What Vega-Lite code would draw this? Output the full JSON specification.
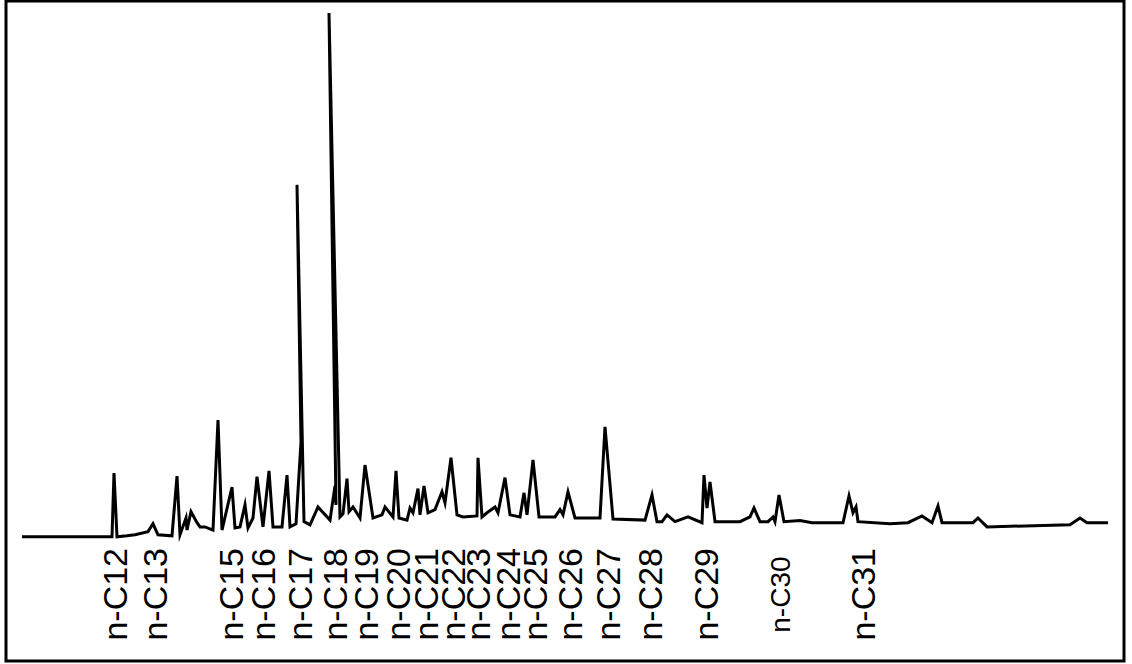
{
  "$schema": "https://vega.github.io/schema/vega-lite/v6.json",
  "width": 1118,
  "height": 660,
  "autosize": "none",
  "padding": {"left": 6, "top": 1, "right": 8, "bottom": 3},
  "background": "white",
  "config": {"view": {"stroke": "black", "strokeWidth": 3}},
  "datasets": {
    "trace": [
      {"i": 1, "t": 0.8, "a": 0},
      {"i": 2, "t": 5.3, "a": 0},
      {"i": 3, "t": 5.4, "a": 12.2},
      {"i": 4, "t": 5.55, "a": 0},
      {"i": 5, "t": 6.05, "a": 0.2},
      {"i": 6, "t": 6.45, "a": 0.4},
      {"i": 7, "t": 7.1, "a": 1.0},
      {"i": 8, "t": 7.35, "a": 2.5},
      {"i": 9, "t": 7.6, "a": 0.4},
      {"i": 10, "t": 8.3, "a": 0.2},
      {"i": 11, "t": 8.55, "a": 11.6},
      {"i": 12, "t": 8.7, "a": 0.4},
      {"i": 13, "t": 9.0, "a": 3.6},
      {"i": 14, "t": 9.05, "a": 1.3},
      {"i": 15, "t": 9.25, "a": 4.8},
      {"i": 16, "t": 9.55, "a": 2.7},
      {"i": 17, "t": 9.7, "a": 1.9},
      {"i": 18, "t": 9.95, "a": 1.9},
      {"i": 19, "t": 10.35, "a": 1.3},
      {"i": 20, "t": 10.6, "a": 22.3},
      {"i": 21, "t": 10.8, "a": 1.3},
      {"i": 22, "t": 11.3, "a": 9.5},
      {"i": 23, "t": 11.45, "a": 1.7},
      {"i": 24, "t": 11.7, "a": 1.9},
      {"i": 25, "t": 11.95, "a": 6.1},
      {"i": 26, "t": 12.1, "a": 1.7},
      {"i": 27, "t": 12.35, "a": 3.6},
      {"i": 28, "t": 12.55, "a": 11.5},
      {"i": 29, "t": 12.85, "a": 1.9},
      {"i": 30, "t": 13.15, "a": 12.6},
      {"i": 31, "t": 13.35, "a": 1.9},
      {"i": 32, "t": 13.8, "a": 1.9},
      {"i": 33, "t": 14.05, "a": 11.8},
      {"i": 34, "t": 14.2, "a": 1.9},
      {"i": 35, "t": 14.5, "a": 2.5},
      {"i": 36, "t": 14.75, "a": 18.1},
      {"i": 37, "t": 14.55, "a": 67.2},
      {"i": 38, "t": 14.9, "a": 2.9},
      {"i": 39, "t": 15.2, "a": 2.3},
      {"i": 40, "t": 15.6, "a": 5.7},
      {"i": 41, "t": 16.2, "a": 3.2},
      {"i": 42, "t": 16.45, "a": 9.7},
      {"i": 43, "t": 16.5, "a": 6.1},
      {"i": 44, "t": 16.15, "a": 100.0},
      {"i": 45, "t": 16.7, "a": 3.8},
      {"i": 46, "t": 16.85, "a": 4.4},
      {"i": 47, "t": 17.05, "a": 11.1},
      {"i": 48, "t": 17.15, "a": 4.8},
      {"i": 49, "t": 17.35, "a": 5.7},
      {"i": 50, "t": 17.7, "a": 3.6},
      {"i": 51, "t": 17.95, "a": 13.7},
      {"i": 52, "t": 18.35, "a": 3.6},
      {"i": 53, "t": 18.8, "a": 4.2},
      {"i": 54, "t": 18.95, "a": 5.7},
      {"i": 55, "t": 19.35, "a": 3.8},
      {"i": 56, "t": 19.5, "a": 12.6},
      {"i": 57, "t": 19.65, "a": 3.6},
      {"i": 58, "t": 20.05, "a": 3.2},
      {"i": 59, "t": 20.2, "a": 5.5},
      {"i": 60, "t": 20.35, "a": 4.6},
      {"i": 61, "t": 20.6, "a": 9.2},
      {"i": 62, "t": 20.7, "a": 4.2},
      {"i": 63, "t": 20.9, "a": 9.7},
      {"i": 64, "t": 21.1, "a": 4.6},
      {"i": 65, "t": 21.45, "a": 5.2},
      {"i": 66, "t": 21.8, "a": 8.6},
      {"i": 67, "t": 21.95, "a": 6.5},
      {"i": 68, "t": 22.25, "a": 15.1},
      {"i": 69, "t": 22.55, "a": 4.2},
      {"i": 70, "t": 22.85, "a": 3.8},
      {"i": 71, "t": 23.55, "a": 4.0},
      {"i": 72, "t": 23.6, "a": 15.1},
      {"i": 73, "t": 23.8, "a": 3.8},
      {"i": 74, "t": 24.05, "a": 4.6},
      {"i": 75, "t": 24.45, "a": 5.7},
      {"i": 76, "t": 24.6, "a": 4.6},
      {"i": 77, "t": 24.95, "a": 11.3},
      {"i": 78, "t": 25.2, "a": 4.2},
      {"i": 79, "t": 25.7, "a": 3.8},
      {"i": 80, "t": 25.9, "a": 8.4},
      {"i": 81, "t": 26.05, "a": 4.2},
      {"i": 82, "t": 26.35, "a": 14.7},
      {"i": 83, "t": 26.65, "a": 3.8},
      {"i": 84, "t": 27.45, "a": 3.8},
      {"i": 85, "t": 27.7, "a": 5.2},
      {"i": 86, "t": 27.85, "a": 4.2},
      {"i": 87, "t": 28.1, "a": 8.6},
      {"i": 88, "t": 28.45, "a": 3.6},
      {"i": 89, "t": 29.7, "a": 3.6},
      {"i": 90, "t": 29.95, "a": 21.0},
      {"i": 91, "t": 30.35, "a": 3.4},
      {"i": 92, "t": 31.95, "a": 3.2},
      {"i": 93, "t": 32.3, "a": 8.0},
      {"i": 94, "t": 32.55, "a": 2.9},
      {"i": 95, "t": 32.8, "a": 2.9},
      {"i": 96, "t": 33.05, "a": 4.2},
      {"i": 97, "t": 33.45, "a": 2.9},
      {"i": 98, "t": 34.1, "a": 3.8},
      {"i": 99, "t": 34.8, "a": 2.7},
      {"i": 100, "t": 34.9, "a": 11.8},
      {"i": 101, "t": 35.05, "a": 5.5},
      {"i": 102, "t": 35.2, "a": 10.5},
      {"i": 103, "t": 35.45, "a": 2.9},
      {"i": 104, "t": 36.7, "a": 2.9},
      {"i": 105, "t": 37.2, "a": 3.8},
      {"i": 106, "t": 37.4, "a": 5.5},
      {"i": 107, "t": 37.7, "a": 2.9},
      {"i": 108, "t": 38.1, "a": 2.9},
      {"i": 109, "t": 38.35, "a": 3.8},
      {"i": 110, "t": 38.45, "a": 2.9},
      {"i": 111, "t": 38.65, "a": 8.0},
      {"i": 112, "t": 38.9, "a": 2.9},
      {"i": 113, "t": 39.7, "a": 3.1},
      {"i": 114, "t": 40.3, "a": 2.7},
      {"i": 115, "t": 41.85, "a": 2.7},
      {"i": 116, "t": 42.15, "a": 7.8},
      {"i": 117, "t": 42.35, "a": 4.6},
      {"i": 118, "t": 42.5, "a": 5.7},
      {"i": 119, "t": 42.6, "a": 2.9},
      {"i": 120, "t": 44.2, "a": 2.5},
      {"i": 121, "t": 45.1, "a": 2.7},
      {"i": 122, "t": 45.8, "a": 4.0},
      {"i": 123, "t": 46.3, "a": 2.7},
      {"i": 124, "t": 46.6, "a": 5.9},
      {"i": 125, "t": 46.8, "a": 2.7},
      {"i": 126, "t": 48.35, "a": 2.7},
      {"i": 127, "t": 48.6, "a": 3.6},
      {"i": 128, "t": 49.05, "a": 1.9},
      {"i": 129, "t": 53.2, "a": 2.3},
      {"i": 130, "t": 53.7, "a": 3.6},
      {"i": 131, "t": 54.05, "a": 2.7},
      {"i": 132, "t": 55.1, "a": 2.7}
    ],
    "alkanes": [
      {"label": "n-C12", "t": 5.55},
      {"label": "n-C13", "t": 7.55},
      {"label": "n-C15", "t": 11.35},
      {"label": "n-C16", "t": 12.95},
      {"label": "n-C17", "t": 14.8},
      {"label": "n-C18", "t": 16.55},
      {"label": "n-C19", "t": 18.1},
      {"label": "n-C20", "t": 19.7},
      {"label": "n-C21", "t": 21.1},
      {"label": "n-C22", "t": 22.45},
      {"label": "n-C23", "t": 23.7},
      {"label": "n-C24", "t": 25.2},
      {"label": "n-C25", "t": 26.55},
      {"label": "n-C26", "t": 28.3},
      {"label": "n-C27", "t": 30.2},
      {"label": "n-C28", "t": 32.3},
      {"label": "n-C29", "t": 35.1},
      {"label": "n-C30", "t": 38.8},
      {"label": "n-C31", "t": 42.95}
    ]
  },
  "layer": [
    {
      "data": {"name": "trace"},
      "mark": {"type": "line", "color": "black", "strokeWidth": 3, "strokeJoin": "miter", "strokeMiterLimit": 6},
      "encoding": {
        "x": {"field": "t", "type": "quantitative", "scale": {"domain": [0, 55.9], "nice": false, "zero": false}, "axis": null},
        "y": {"field": "a", "type": "quantitative", "scale": {"domain": [-23.7, 102.3], "nice": false, "zero": false}, "axis": null},
        "order": {"field": "i", "type": "quantitative"}
      }
    },
    {
      "data": {"name": "alkanes"},
      "transform": [{"filter": "datum.label !== 'n-C30'"}],
      "mark": {"type": "text", "angle": 270, "align": "left", "baseline": "middle", "font": "Liberation Sans", "fontSize": 34, "color": "black"},
      "encoding": {
        "x": {"field": "t", "type": "quantitative", "scale": {"domain": [0, 55.9], "nice": false, "zero": false}, "axis": null},
        "y": {"datum": -19.8, "type": "quantitative", "scale": {"domain": [-23.7, 102.3], "nice": false, "zero": false}, "axis": null},
        "text": {"field": "label"}
      }
    },
    {
      "data": {"name": "alkanes"},
      "transform": [{"filter": "datum.label === 'n-C30'"}],
      "mark": {"type": "text", "angle": 270, "align": "left", "baseline": "middle", "font": "Liberation Sans", "fontSize": 28, "color": "black"},
      "encoding": {
        "x": {"field": "t", "type": "quantitative", "scale": {"domain": [0, 55.9], "nice": false, "zero": false}, "axis": null},
        "y": {"datum": -18.3, "type": "quantitative", "scale": {"domain": [-23.7, 102.3], "nice": false, "zero": false}, "axis": null},
        "text": {"field": "label"}
      }
    },
    {
      "mark": {"type": "text", "align": "right", "baseline": "alphabetic", "font": "Liberation Sans", "fontSize": 38, "color": "black", "text": "ÖRNEK NO:U2"},
      "encoding": {
        "x": {"datum": 55.45, "type": "quantitative", "scale": {"domain": [0, 55.9], "nice": false, "zero": false}, "axis": null},
        "y": {"datum": 89.1, "type": "quantitative", "scale": {"domain": [-23.7, 102.3], "nice": false, "zero": false}, "axis": null}
      }
    }
  ]
}
